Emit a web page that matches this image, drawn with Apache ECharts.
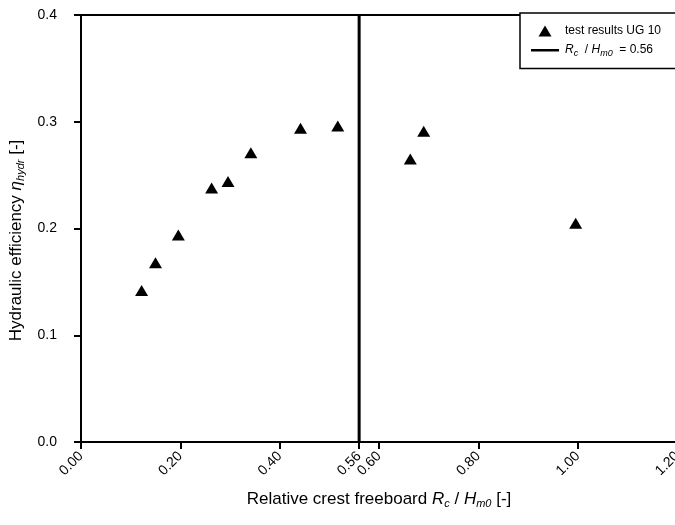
<!DOCTYPE html>
<html><head><meta charset="utf-8">
<script src="https://cdn.jsdelivr.net/npm/echarts@6/dist/echarts.min.js"></script>
<style>html,body{margin:0;padding:0;background:#fff}#c{width:675px;height:525px}</style>
</head><body><div id="c"></div>
<script>
var relFreeboard = [0.122, 0.150, 0.196, 0.263, 0.296, 0.342, 0.442, 0.517, 0.663, 0.690, 0.996];
var hydrEfficiency = [0.142, 0.168, 0.194, 0.238, 0.244, 0.271, 0.294, 0.296, 0.265, 0.291, 0.205];
var thresholdX = 0.56;
var xTickLabels = [0, 0.2, 0.4, 0.56, 0.6, 0.8, 1.0, 1.2];
var xTicks = [0, 0.2, 0.4, 0.56, 0.6, 0.8, 1.0, 1.2];

var font = 'Liberation Sans, Arial, sans-serif';
var chart = echarts.init(document.getElementById('c'));
var pts = relFreeboard.map(function (x, i) { return [x, hydrEfficiency[i]]; });
var titleRich = {
  i: { fontStyle: 'italic', fontSize: 17, fontFamily: font, color: '#000' },
  s: { fontSize: 11, fontStyle: 'italic', fontFamily: font, color: '#000', verticalAlign: 'bottom', padding: [9, 0, 0, 0] }
};
chart.setOption({
  animation: false,
  grid: { left: 81, right: -2, top: 15, bottom: 83, outerBoundsMode: 'none', containLabel: false,
    show: true, borderColor: '#000', borderWidth: 1.8, backgroundColor: 'transparent' },
  xAxis: {
    type: 'value', min: 0, max: 1.2, interval: 0.2,
    axisLine: { onZero: false, lineStyle: { color: '#000', width: 2 } },
    axisTick: { show: true, length: 7, customValues: xTicks, lineStyle: { color: '#000', width: 2 } },
    splitLine: { show: false },
    axisLabel: { customValues: xTickLabels, rotate: 45, color: '#000', fontSize: 14, fontFamily: font, margin: 12,
      hideOverlap: false, formatter: function (v) { return v.toFixed(2); } },
    name: 'Relative crest freeboard {i|R}{s|c} / {i|H}{s|m0} [-]',
    nameLocation: 'middle', nameGap: 47,
    nameTextStyle: { color: '#000', fontSize: 17, fontFamily: font, rich: titleRich }
  },
  yAxis: {
    type: 'value', min: 0, max: 0.4, interval: 0.1,
    axisLine: { onZero: false, lineStyle: { color: '#000', width: 2 } },
    axisTick: { show: true, length: 7, lineStyle: { color: '#000', width: 2 } },
    splitLine: { show: false },
    axisLabel: { color: '#000', fontSize: 14, fontFamily: font, margin: 24,
      formatter: function (v) { return v.toFixed(1); } },
    name: 'Hydraulic efficiency {i|η}{s|hydr} [-]',
    nameLocation: 'middle', nameGap: 50, nameRotate: 90,
    nameTextStyle: { color: '#000', fontSize: 17, fontFamily: font, rich: titleRich, padding: [0, 24, 0, 0] }
  },
  legend: {
    orient: 'vertical', left: 520, top: 13,
    backgroundColor: '#fff', borderColor: '#000', borderWidth: 1.5,
    padding: [12, 40, 11, 10], itemGap: 7, itemWidth: 30, itemHeight: 12,
    textStyle: { color: '#000', fontSize: 12, fontFamily: font,
      rich: { i: { fontStyle: 'italic', fontSize: 12, fontFamily: font, color: '#000' },
              s: { fontSize: 9, fontStyle: 'italic', fontFamily: font, color: '#000', verticalAlign: 'bottom', padding: [6, 0, 0, 0] } } },
    formatter: function (n) {
      if (n === 'rc') return '{i|R}{s|c}  / {i|H}{s|m0}  = 0.56';
      return n;
    },
    data: [
      { name: 'test results UG 10', icon: 'path://M0,0 M30,12 M8.5,11.5 L15,0.5 L21.5,11.5 Z' },
      { name: 'rc', icon: 'path://M0,0 M30,12 M1,5 L29,5 L29,7.5 L1,7.5 Z' }
    ]
  },
  series: [
    { name: 'test results UG 10', type: 'scatter', symbol: 'triangle', symbolSize: [13, 11],
      itemStyle: { color: '#000', opacity: 1 }, data: pts },
    { name: 'rc', type: 'line', symbol: 'none', lineStyle: { color: '#000', width: 3 },
      itemStyle: { color: '#000' },
      data: [[thresholdX, 0], [thresholdX, 0.4]] }
  ]
});
</script></body></html>
